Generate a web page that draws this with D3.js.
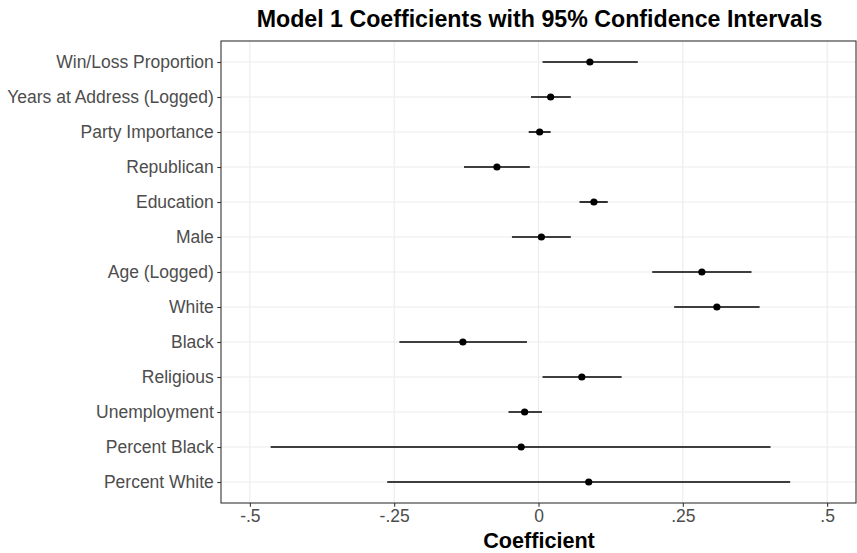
<!DOCTYPE html>
<html><head><meta charset="utf-8">
<script src="https://cdn.jsdelivr.net/npm/d3@7"></script>
<style>body{margin:0;background:#fff;} text{font-family:"Liberation Sans",Arial,sans-serif;}</style>
</head><body>
<svg id="chart" width="857" height="553"></svg>
<script>
const variables = ["Win/Loss Proportion","Years at Address (Logged)","Party Importance","Republican","Education","Male","Age (Logged)","White","Black","Religious","Unemployment","Percent Black","Percent White"];
const estimates = [0.089, 0.021, 0.002, -0.072, 0.096, 0.005, 0.283, 0.309, -0.131, 0.075, -0.024, -0.030, 0.087];
const lower     = [0.007, -0.013, -0.017, -0.129, 0.071, -0.046, 0.197, 0.235, -0.241, 0.007, -0.052, -0.464, -0.262];
const upper     = [0.172, 0.056, 0.021, -0.015, 0.120, 0.056, 0.369, 0.383, -0.020, 0.144, 0.006, 0.402, 0.436];
const xTicks = [-0.5, -0.25, 0, 0.25, 0.5];
const xTickLabels = ["-.5", "-.25", "0", ".25", ".5"];

const svg = d3.select("#chart");
const m = {left:221, right:856, top:41, bottom:503};
const x = d3.scaleLinear().domain([-0.55, 0.55]).range([m.left, m.right]);
const y = d3.scalePoint().domain(variables).range([m.top, m.bottom]).padding(0.6);

const g = svg.append("g");
// grid
g.selectAll(".vg").data(xTicks).join("line")
  .attr("x1", d=>x(d)).attr("x2", d=>x(d)).attr("y1", m.top).attr("y2", m.bottom)
  .attr("stroke", "#ebebeb").attr("stroke-width", 1.1);
g.selectAll(".hg").data(variables).join("line")
  .attr("x1", m.left).attr("x2", m.right).attr("y1", d=>y(d)).attr("y2", d=>y(d))
  .attr("stroke", "#ebebeb").attr("stroke-width", 1.1);

// error bars
const data = variables.map((v,i)=>({v, est:estimates[i], lo:lower[i], hi:upper[i]}));
g.selectAll(".eb").data(data).join("line")
  .attr("x1", d=>x(d.lo)).attr("x2", d=>x(d.hi)).attr("y1", d=>y(d.v)).attr("y2", d=>y(d.v))
  .attr("stroke", "#000").attr("stroke-width", 1.6);
g.selectAll(".pt").data(data).join("circle")
  .attr("cx", d=>x(d.est)).attr("cy", d=>y(d.v)).attr("r", 3.6).attr("fill", "#000");

// border
svg.append("rect").attr("x", m.left).attr("y", m.top).attr("width", m.right-m.left).attr("height", m.bottom-m.top)
  .attr("fill", "none").attr("stroke", "#333333").attr("stroke-width", 1.1);

// axes
const xAxis = d3.axisBottom(x).tickValues(xTicks).tickFormat((d,i)=>xTickLabels[i]).tickSize(3.7).tickPadding(3);
const xa = svg.append("g").attr("transform", `translate(0,${m.bottom})`).call(xAxis);
xa.select(".domain").remove();
xa.selectAll(".tick line").attr("stroke", "#333333").attr("stroke-width", 1.1);
xa.selectAll(".tick text").attr("fill", "#4d4d4d").style("font-size", "17.5px").style("font-family", "'Liberation Sans', Arial, sans-serif");

const yAxis = d3.axisLeft(y).tickSize(3.7).tickPadding(3.5);
const ya = svg.append("g").attr("transform", `translate(${m.left},0)`).call(yAxis);
ya.select(".domain").remove();
ya.selectAll(".tick line").attr("stroke", "#333333").attr("stroke-width", 1.1);
ya.selectAll(".tick text").attr("fill", "#4d4d4d").style("font-size", "17.5px").style("font-family", "'Liberation Sans', Arial, sans-serif");

// titles
svg.append("text").attr("x", (m.left+m.right)/2 + 1).attr("y", 27).attr("text-anchor", "middle")
  .style("font-size", "23.2px").style("font-weight", "bold").attr("fill", "#000")
  .text("Model 1 Coefficients with 95% Confidence Intervals");
svg.append("text").attr("x", (m.left+m.right)/2 + 0.5).attr("y", 548).attr("text-anchor", "middle")
  .style("font-size", "21.6px").style("font-weight", "bold").attr("fill", "#000")
  .text("Coefficient");
</script>
</body></html>
